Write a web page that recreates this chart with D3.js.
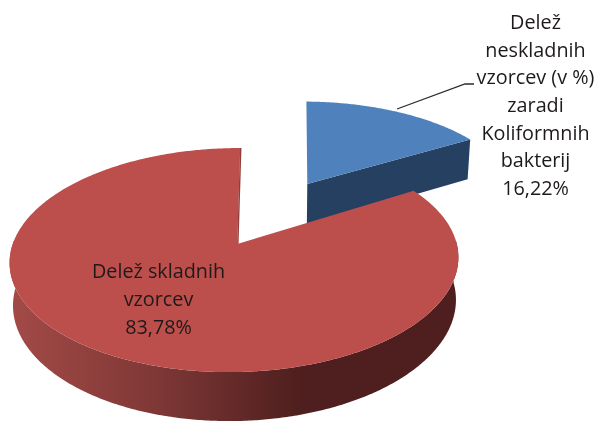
<!DOCTYPE html>
<html>
<head>
<meta charset="utf-8">
<script src="https://cdn.jsdelivr.net/npm/d3@7"></script>
<style>
html, body { margin: 0; padding: 0; background: #fff; }
svg { display: block; filter: blur(0.5px); }
text { font-family: "Open Sans", sans-serif; font-size: 19.8px; fill: #1f1a1a; text-anchor: middle; }
</style>
</head>
<body>
<svg width="597" height="421"></svg>
<script>
// data
var categories = ["neskladni", "skladni"];
var values = [16.22, 83.78];
var blueLabel = ["Delež", "neskladnih", "vzorcev (v %)", "zaradi", "Koliformnih", "bakterij"];
var redLabel = ["Delež skladnih", "vzorcev"];

// colours
var topColors = ["#4f81bd", "#bc4f4c"];
var sideColors = ["#254061", "url(#redSide)"];

// fake 3d: unit disc -> screen, with perspective
var cx = 272.5, cy = 212.8, bx = 213, by = 101, persp = 0.137;
var depths = [43, 40.5], shrink = 0.987;
var explodeX = 0.17, explodeY = 0.297;
var rots = [Math.PI / 180, 0.2 * Math.PI / 180];

function project(u, v) {
    var w = 1 - persp * v;
    return [cx + bx * u / w, cy + by * v / w];
}

function extrude(p, depth) {
    var w = 1 - persp * (p[1] - cy) / by * 0.8;
    return [cx + (p[0] - cx) * shrink, p[1] + depth / w];
}

var svg = d3.select("svg");
var defs = svg.append("defs");
var grad = defs.append("linearGradient")
    .attr("id", "redSide")
    .attr("gradientUnits", "userSpaceOnUse")
    .attr("x1", 10).attr("x2", 300).attr("y1", 0).attr("y2", 0);
grad.append("stop").attr("offset", 0).attr("stop-color", "#a34a47");
grad.append("stop").attr("offset", 0.5).attr("stop-color", "#7f3836");
grad.append("stop").attr("offset", 1).attr("stop-color", "#4e1f1e");

var pie = d3.pie().sort(null).value(function (d) { return d; });
var slices = pie(values);
var line = d3.line();

slices.forEach(function (s, i) {
    // blue goes up and right, red goes down and left
    var sign = i === 0 ? 1 : -1;
    var ou = sign * explodeX, ov = -sign * explodeY;
    s.rim = d3.range(s.startAngle, s.endAngle, 0.01).concat([s.endAngle]).map(function (a) {
        return project(ou + Math.sin(a + rots[i]), ov - Math.cos(a + rots[i]));
    });
    s.apex = project(ou, ov);
    if (i === 1) s.apex[0] += 2.5;
});

var g = svg.append("g");

// blue first, red sits in front of it
slices.forEach(function (s, i) {
    var d = depths[i];
    var low = function (p) { return extrude(p, d); };
    var last = s.rim[s.rim.length - 1];
    if (i === 0) {
        g.append("path")
            .attr("d", line([s.apex, last, low(last), low(s.apex)]) + "Z")
            .attr("fill", sideColors[i]);
    } else {
        // only the part of the red wall that shows at the front
        var front = s.rim.filter(function (p) { return p[1] > 240; });
        g.append("path")
            .attr("d", line(front.concat(front.map(low).reverse())) + "Z")
            .attr("fill", sideColors[i]);
    }
    g.append("path")
        .attr("d", line([s.apex].concat(s.rim)) + "Z")
        .attr("fill", topColors[i]);
    if (i === 1) {
        // thin wall inside the notch
        g.append("path")
            .attr("d", line([[s.apex[0] + 0.6, s.apex[1]], [last[0] + 0.6, last[1]]]))
            .attr("stroke", "#8f3e3b")
            .attr("stroke-width", 1.4)
            .attr("fill", "none");
    }
});

// leader line
svg.append("path")
    .attr("d", "M397,109L465,84L474,84")
    .attr("fill", "none")
    .attr("stroke", "#2b2b2b")
    .attr("stroke-width", 1.3);

function percent(v) {
    return d3.format(".2f")(v).replace(".", ",") + "%";
}

function addLabel(lines, x, y, step) {
    svg.append("g").selectAll("text")
        .data(lines)
        .enter().append("text")
        .attr("x", x)
        .attr("y", function (d, i) { return y + i * step; })
        .attr("dy", "0.35em")
        .text(function (d) { return d; });
}

addLabel(blueLabel.concat([percent(values[0])]), 535.5, 22, 27.7);
addLabel(redLabel.concat([percent(values[1])]), 158.5, 271, 28);
</script>
</body>
</html>
